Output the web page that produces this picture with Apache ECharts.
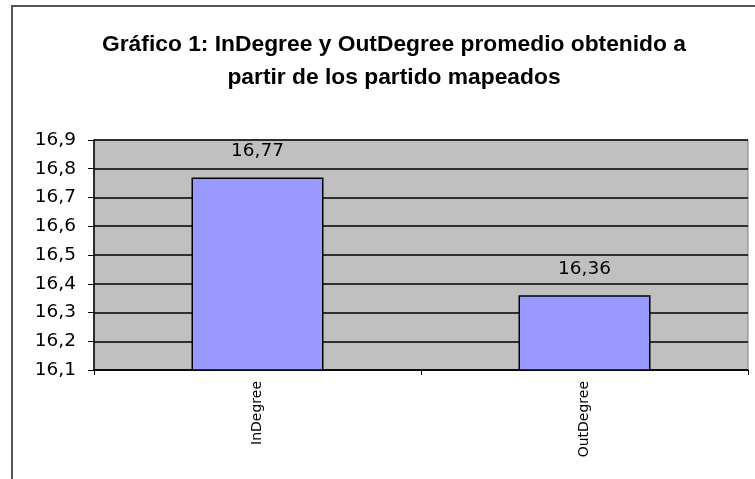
<!DOCTYPE html>
<html>
<head>
<meta charset="utf-8">
<script src="https://cdn.jsdelivr.net/npm/echarts@6/dist/echarts.min.js"></script>
<style>
html,body{margin:0;padding:0;background:#fff;}
#chart{width:755px;height:479px;}
</style>
</head>
<body>
<div id="chart"></div>
<script>
const titleText = "Gráfico 1: InDegree y OutDegree promedio obtenido a\npartir de los partido mapeados";
const categories = ["InDegree", "OutDegree"];
const values = [16.77, 16.36];
const yMin = 16.1;
const yMax = 16.9;
const yStep = 0.1;

const chart = echarts.init(document.getElementById('chart'), null, {renderer: 'canvas'});
const fmt = v => String(v).replace('.', ',');
chart.setOption({
  animation: false,
  backgroundColor: '#ffffff',
  graphic: [{
    type: 'rect',
    shape: {x: 12, y: 6, width: 800, height: 600},
    style: {fill: 'none', stroke: '#555555', lineWidth: 2},
    z: -1
  }],
  title: {
    text: titleText,
    left: 389,
    textAlign: 'center',
    top: 23,
    textStyle: {
      fontFamily: 'Liberation Sans, Arial, sans-serif',
      fontWeight: 'bold',
      fontSize: 22.8,
      lineHeight: 33,
      color: '#000'
    }
  },
  grid: {
    left: 94, top: 140, right: 7, bottom: 109,
    show: true,
    backgroundColor: '#C0C0C0',
    borderColor: '#808080',
    borderWidth: 1
  },
  xAxis: {
    type: 'category',
    data: categories,
    axisLine: {lineStyle: {color: '#000', width: 1.5}},
    axisTick: {show: true, length: 5, lineStyle: {color: '#000'}},
    axisLabel: {
      rotate: 90,
      margin: 11,
      fontFamily: 'DejaVu Sans, sans-serif',
      fontSize: 14,
      color: '#000'
    }
  },
  yAxis: {
    type: 'value',
    min: yMin,
    max: yMax,
    interval: yStep,
    axisLine: {show: true, lineStyle: {color: '#000', width: 1.5}},
    axisTick: {show: true, length: 6, lineStyle: {color: '#000'}},
    splitLine: {show: true, lineStyle: {color: '#000', width: 1.5}},
    axisLabel: {
      formatter: v => fmt(Math.round(v * 10) / 10),
      margin: 18,
      fontFamily: 'DejaVu Sans, sans-serif',
      fontSize: 18.5,
      color: '#000'
    }
  },
  series: [{
    type: 'bar',
    data: values,
    barWidth: 132,
    itemStyle: {color: '#9999FF', borderColor: '#000', borderWidth: 1.5},
    label: {
      show: true,
      position: 'top',
      distance: 17,
      formatter: p => fmt(p.value),
      fontFamily: 'DejaVu Sans, sans-serif',
      fontSize: 18.5,
      color: '#000'
    }
  }]
});
</script>
</body>
</html>
